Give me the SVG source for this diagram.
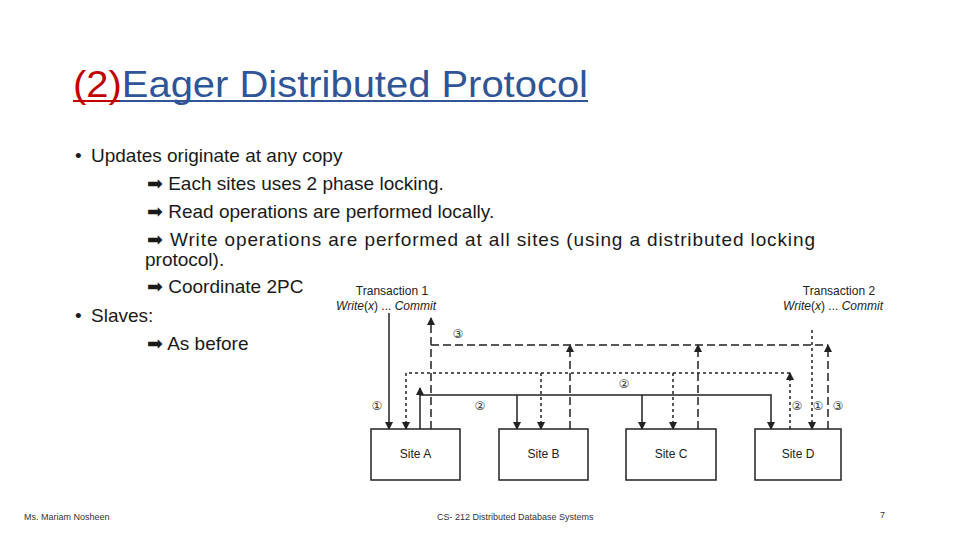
<svg xmlns="http://www.w3.org/2000/svg" width="960" height="540" viewBox="0 0 960 540">
<style>
.b{font-family:"Liberation Sans","DejaVu Sans",sans-serif;font-size:19px;fill:#1a1a1a}
.d{font-family:"Liberation Sans",sans-serif;font-size:12px;fill:#222}
.n{font-family:"DejaVu Sans",sans-serif;font-size:12px;fill:#333}
.box{fill:#fff;stroke:#222;stroke-width:1.5}
.s{stroke:#222;stroke-width:1.5;fill:none}
.dt{stroke-dasharray:3 3}
.ds{stroke-dasharray:8 4}
.f{font-family:"Liberation Sans",sans-serif;font-size:9px;fill:#333}
</style>
<defs><marker id="a" markerWidth="8" markerHeight="8" refX="7" refY="4" orient="auto" markerUnits="userSpaceOnUse"><path d="M0,0 L8,4 L0,8 z" fill="#222"/></marker></defs>
<rect width="960" height="540" fill="#fff"/>
<g id="title" font-family="Liberation Sans,sans-serif" font-size="36">
<text x="73" y="97" textLength="515" lengthAdjust="spacingAndGlyphs"><tspan fill="#c00000">(2)</tspan><tspan fill="#2f5597">Eager Distributed Protocol</tspan></text>
<line x1="73" y1="101" x2="120" y2="101" stroke="#c00000" stroke-width="2"/>
<line x1="120" y1="101" x2="588" y2="101" stroke="#2f5597" stroke-width="2"/>
</g>
<g id="body">
<text class="b" x="75" y="162">• <tspan x="91">Updates originate at any copy</tspan></text>
<text class="b" x="147" y="190">➡ Each sites uses 2 phase locking.</text>
<text class="b" x="147" y="218">➡ Read operations are performed locally.</text>
<text class="b" x="147" y="246" textLength="668" lengthAdjust="spacing">➡ Write operations are performed at all sites (using a   distributed locking</text>
<text class="b" x="145" y="266">protocol).</text>
<text class="b" x="147" y="293">➡ Coordinate 2PC</text>
<text class="b" x="75" y="322">• <tspan x="91">Slaves:</tspan></text>
<text class="b" x="147" y="350">➡ As before</text>
</g>
<g id="labels">
<text class="d" x="392" y="295" text-anchor="middle">Transaction 1</text>
<text class="d" x="336" y="310"><tspan font-style="italic">Write</tspan>(<tspan font-style="italic">x</tspan>) ... <tspan font-style="italic">Commit</tspan></text>
<text class="d" x="839" y="295" text-anchor="middle">Transaction 2</text>
<text class="d" x="783" y="310"><tspan font-style="italic">Write</tspan>(<tspan font-style="italic">x</tspan>) ... <tspan font-style="italic">Commit</tspan></text>
<text class="n" x="458" y="338" text-anchor="middle">③</text>
<text class="n" x="624" y="388" text-anchor="middle">②</text>
<text class="n" x="377" y="410" text-anchor="middle">①</text>
<text class="n" x="480" y="410" text-anchor="middle">②</text>
<text class="n" x="797" y="410" text-anchor="middle">②</text>
<text class="n" x="818" y="410" text-anchor="middle">①</text>
<text class="n" x="838" y="410" text-anchor="middle">③</text>
</g>
<g id="connectors">
<line class="s" x1="389" y1="313" x2="389" y2="429" marker-end="url(#a)"/>
<path class="s" d="M420,429 V388"  marker-end="url(#a)"/>
<path class="s" d="M420,395 H771 V429" marker-end="url(#a)"/>
<path class="s" d="M517,395 V429" marker-end="url(#a)"/>
<path class="s" d="M642,395 V429" marker-end="url(#a)"/>
<path class="s dt" d="M790,373 H406 V429" marker-end="url(#a)"/>
<path class="s dt" d="M541,373 V429" marker-end="url(#a)"/>
<path class="s dt" d="M673,373 V429" marker-end="url(#a)"/>
<path class="s dt" d="M790,429 V373" marker-end="url(#a)"/>
<path class="s dt" d="M812,330 V429" marker-end="url(#a)"/>
<path class="s ds" d="M431,429 V318" marker-end="url(#a)"/>
<path class="s ds" d="M431,345 H828"/>
<path class="s ds" d="M570,429 V345" marker-end="url(#a)"/>
<path class="s ds" d="M698,429 V345" marker-end="url(#a)"/>
<path class="s ds" d="M828,429 V345" marker-end="url(#a)"/>
</g>
<g id="siteA"><rect class="box" x="371" y="429" width="89" height="51"/><text class="d" x="415.5" y="458" text-anchor="middle">Site A</text></g>
<g id="siteB"><rect class="box" x="499" y="429" width="89" height="51"/><text class="d" x="543.5" y="458" text-anchor="middle">Site B</text></g>
<g id="siteC"><rect class="box" x="626" y="429" width="90" height="51"/><text class="d" x="671" y="458" text-anchor="middle">Site C</text></g>
<g id="siteD"><rect class="box" x="755" y="429" width="86" height="51"/><text class="d" x="798" y="458" text-anchor="middle">Site D</text></g>
<g id="footer">
<text class="f" x="24" y="520">Ms. Mariam Nosheen</text>
<text class="f" x="437" y="520">CS- 212 Distributed Database Systems</text>
<text class="f" x="880" y="518" font-size="10" fill="#777">7</text>
</g>
</svg>
